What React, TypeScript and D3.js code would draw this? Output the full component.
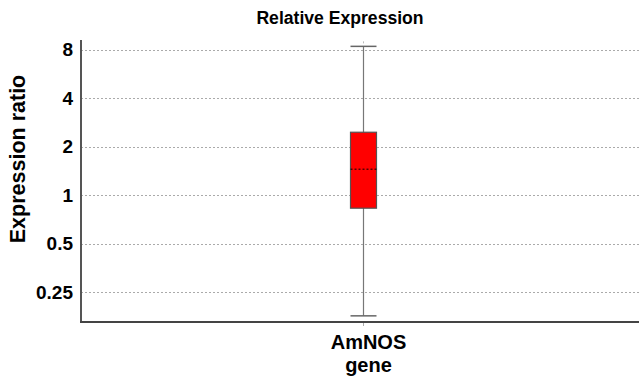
import React from "react";
import * as d3 from "d3";

const categories = ["AmNOS gene"];
const whiskerLow = [0.178];
const boxLow = [0.83];
const median = [1.45];
const boxHigh = [2.46];
const whiskerHigh = [8.4];
const yTicks = [0.25, 0.5, 1, 2, 4, 8];

const width = 639;
const height = 381;
const margin = { top: 40, right: 0, bottom: 59, left: 81 };
const font = "Arial, 'Liberation Sans', sans-serif";

export default function App() {
  const y = d3
    .scaleLog()
    .base(2)
    .domain([0.163, 9.2])
    .range([height - margin.bottom, margin.top]);

  // single category, centred where the reference box sits
  const x = d3
    .scaleBand()
    .domain(categories)
    .range([margin.left, 645])
    .padding(0);

  const boxW = 26;

  return (
    <svg
      width={width}
      height={height}
      style={{ position: "absolute", left: 0, top: 0, background: "#fff" }}
    >
      <text
        x={340}
        y={24}
        textAnchor="middle"
        fontFamily={font}
        fontWeight="bold"
        fontSize={17.6}
      >
        Relative Expression
      </text>

      {yTicks.map((t) => (
        <g key={t}>
          <line
            x1={margin.left}
            x2={width}
            y1={Math.round(y(t)) + 0.5}
            y2={Math.round(y(t)) + 0.5}
            stroke="#aaa"
            strokeDasharray="2,2"
          />
          <text
            x={73}
            y={y(t)}
            dy="0.35em"
            textAnchor="end"
            fontFamily={font}
            fontWeight="bold"
            fontSize={19}
          >
            {t}
          </text>
        </g>
      ))}

      <text
        transform={`translate(25,159) rotate(-90)`}
        textAnchor="middle"
        fontFamily={font}
        fontWeight="bold"
        fontSize={21.5}
      >
        Expression ratio
      </text>

      {categories.map((c, i) => {
        const xc = Math.round((x(c) ?? 0) + x.bandwidth() / 2) + 0.5;
        return (
          <g key={c}>
            <line x1={xc} x2={xc} y1={y(whiskerHigh[i])} y2={y(whiskerLow[i])} stroke="#777" strokeWidth={1.2} />
            <line x1={xc - 13} x2={xc + 13} y1={y(whiskerHigh[i])} y2={y(whiskerHigh[i])} stroke="#666" strokeWidth={1.5} />
            <line x1={xc - 13} x2={xc + 13} y1={y(whiskerLow[i])} y2={y(whiskerLow[i])} stroke="#666" strokeWidth={1.5} />
            <line x1={xc} x2={xc} y1={y(whiskerHigh[i]) - 5} y2={y(whiskerHigh[i]) - 3} stroke="#bbb" />
            <rect
              x={xc - boxW / 2}
              y={y(boxHigh[i])}
              width={boxW}
              height={y(boxLow[i]) - y(boxHigh[i])}
              fill="#ff0000"
              stroke="#555"
              strokeWidth={1.2}
            />
            <line
              x1={xc - boxW / 2}
              x2={xc + boxW / 2}
              y1={y(median[i])}
              y2={y(median[i])}
              stroke="#000"
              strokeDasharray="2,2"
            />
            <line x1={xc} x2={xc} y1={height - margin.bottom} y2={height - margin.bottom + 4} stroke="#aaa" />
            {c.split(" ").map((w, j) => (
              <text
                key={w}
                x={xc + 5}
                y={349 + j * 23}
                textAnchor="middle"
                fontFamily={font}
                fontWeight="bold"
                fontSize={20}
              >
                {w}
              </text>
            ))}
          </g>
        );
      })}

      <line x1={margin.left} x2={margin.left} y1={margin.top} y2={height - margin.bottom + 1} stroke="#555" strokeWidth={2} />
      <line x1={margin.left - 1} x2={width} y1={height - margin.bottom} y2={height - margin.bottom} stroke="#444" strokeWidth={2} />
    </svg>
  );
}
